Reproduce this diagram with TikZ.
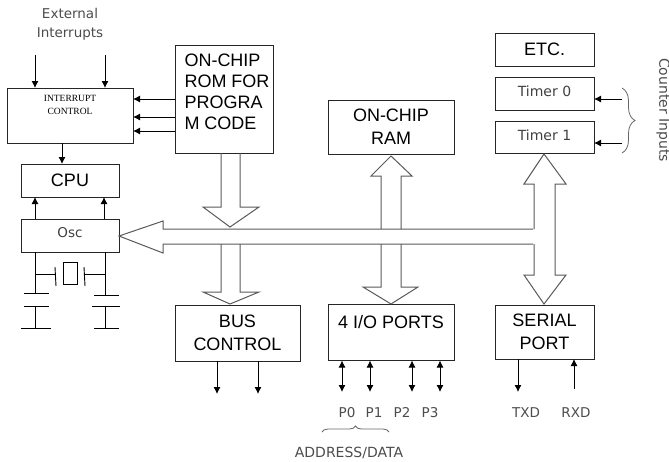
\documentclass[tikz,border=0pt]{standalone}
\usepackage{fontspec}
\setmainfont{Liberation Sans}
\newfontfamily\labelfont{DejaVu Sans}
\newfontfamily\smallfont{Liberation Serif}
\usetikzlibrary{arrows.meta,decorations.pathreplacing}

\begin{document}
\begin{tikzpicture}[x=1pt,y=-1pt,>={Latex[length=7pt,width=7pt]},line width=0.9pt,
    box/.style={draw=black!85,inner sep=0pt,outer sep=0pt,align=center,font=\fontsize{18}{23}\selectfont},
    timer box/.style={box,minimum width=99pt,text=black!75,font=\labelfont\fontsize{14}{16}\selectfont},
    tag/.style={text=black!70,inner sep=0pt,align=center,font=\labelfont\fontsize{13.5}{19}\selectfont},
    pin/.style={tag,anchor=base},
    bus/.style={draw=black!65,line width=1pt,line join=miter},
    brace node/.style={draw=black!60,line width=0.8pt,decorate}]

    \useasboundingbox (0,0) rectangle (669,461);

    \node[box, minimum width=126pt, minimum height=55pt, font=\smallfont\fontsize{9.5}{13}\selectfont] (intr) at (70,115.5) {INTERRUPT\\CONTROL\\[9pt]\mbox{}};
    \node[box, minimum width=98pt, minimum height=108pt, align=left, font=\fontsize{18}{21}\selectfont] (rom) at (224,99) {\hspace*{6pt}ON-CHIP\\\hspace*{6pt}ROM FOR\\\hspace*{6pt}PROGRA\\\hspace*{6pt}M CODE\\[-6pt]\mbox{}};
    \node[box, minimum width=98pt, minimum height=33pt] (cpu) at (70,180.5) {CPU};
    \node[timer box, minimum width=98pt, minimum height=33pt, font=\labelfont\fontsize{13.5}{16}\selectfont] (osc) at (70,235.5) {Osc\\[-10pt]\mbox{}};
    \node[box, minimum width=126pt, minimum height=54pt] (ram) at (391,127) {ON-CHIP\\RAM};
    \node[box, minimum width=99pt, minimum height=33pt] (etc) at (544.5,49.5) {ETC.};
    \node[timer box, minimum height=33pt] (timer0) at (544.5,93.5) {Timer 0\\[-12pt]\mbox{}};
    \node[timer box, minimum height=32pt] (timer1) at (544.5,137) {Timer 1\\[-12pt]\mbox{}};
    \node[box, minimum width=125pt, minimum height=56pt] (buscon) at (237.5,333) {BUS\\CONTROL};
    \node[box, minimum width=126pt, minimum height=56pt] (ports) at (391,332.5) {4 I/O PORTS\\[-2pt]\mbox{}};
    \node[box, minimum width=99pt, minimum height=54pt] (serial) at (544.5,332) {SERIAL\\PORT};

    \node[tag] (extint) at (70,24.5) {External\\Interrupts};
    \node[pin] (p0) at (347,417) {P0};
    \node[pin] (p1) at (374,417) {P1};
    \node[pin] (p2) at (402,417) {P2};
    \node[pin] (p3) at (430,417) {P3};
    \node[pin] (txd) at (526,417) {TXD};
    \node[pin] (rxd) at (576,417) {RXD};
    \node[tag, font=\labelfont\fontsize{14}{16}\selectfont] (addr) at (349,453) {ADDRESS/DATA};
    \node[tag, rotate=-90, font=\labelfont\fontsize{14}{16}\selectfont] (cntin) at (663,110) {Counter Inputs};

    \coordinate (ext1) at (35,55);
    \coordinate (ext2) at (105,55);
    \draw[->] (ext1) to (ext1 |- intr.north);
    \draw[->] (ext2) to (ext2 |- intr.north);
    \draw[->] (rom.west |- 0,99) to (intr.east |- 0,99);
    \draw[->] (rom.west |- 0,117) to (intr.east |- 0,117);
    \draw[->] (rom.west |- 0,131) to (intr.east |- 0,131);
    \draw[->] (intr.south -| 62,0) to (cpu.north -| 62,0);
    \draw[->] (osc.north -| 35,0) to (cpu.south -| 35,0);
    \draw[->] (osc.north -| 104,0) to (cpu.south -| 104,0);

    \coordinate (tin0) at (622,99);
    \coordinate (tin1) at (622,143);
    \draw[->] (tin0) to (tin0 -| timer0.east);
    \draw[->] (tin1) to (tin1 -| timer1.east);
    \draw[brace node, decoration={brace,amplitude=13pt}] (622,88) to (622,153);

    \coordinate (bus1) at (217,394);
    \coordinate (bus2) at (258,394);
    \draw[->] (bus1 |- buscon.south) to (bus1);
    \draw[->] (bus2 |- buscon.south) to (bus2);
    \foreach \px in {342,370,412,440}
        \draw[<->] (\px,360.5) to (\px,392);
    \draw[brace node, decoration={brace,amplitude=6pt}] (322,432) to (389,432);
    \coordinate (tx) at (518,392);
    \coordinate (rx) at (574,389);
    \draw[->] (tx |- serial.south) to (tx);
    \draw[->] (rx) to (rx |- serial.south);

    % oscillator
    \draw (osc.south -| 35,0) to (35,293);
    \draw (osc.south -| 105,0) to (105,295);
    \draw (24,293) to (49,293);
    \draw (94,295) to (119,295);
    \draw (24,306) to (49,306);
    \draw (92,306) to (120,306);
    \draw (35,306) to (35,328);
    \draw (105,306) to (105,328);
    \draw (21,328) to (51,328);
    \draw (94,328) to (119,328);
    \draw (35,274) to (55,274);
    \draw (84,274) to (105,274);
    \draw (55,267) to (56,286);
    \draw (84,267) to (85,286);
    \draw[line width=0.7pt] (63,262) rectangle (77,284);

    % hollow bus arrows
    \draw[bus] (533,229) -- (163,229) -- (163,221) -- (osc.east |- 0,236) -- (163,253) -- (163,244) -- (533,244);
    \draw[bus] (rom.south -| 221,0) -- (221,207) -- (203,207) -- (230,227) -- (259,207) -- (240,207) -- (rom.south -| 240,0);
    \draw[bus] (221,244) -- (221,292) -- (203,292) -- (230,304) -- (259,292) -- (240,292) -- (240,244);
    \draw[bus] (381,244) -- (381,287) -- (363,287) -- (391,304) -- (418,287) -- (401,287) -- (401,244);
    \draw[bus] (381,229) -- (381,176) -- (371,176) -- (391,156) -- (412,176) -- (401,176) -- (401,229);
    \draw[bus] (534,229) -- (534,184) -- (524,184) -- (544,154) -- (566,184) -- (555,184) -- (555,275) -- (566,275) -- (544,304) -- (524,275) -- (534,275) -- (534,244);
\end{tikzpicture}
\end{document}
